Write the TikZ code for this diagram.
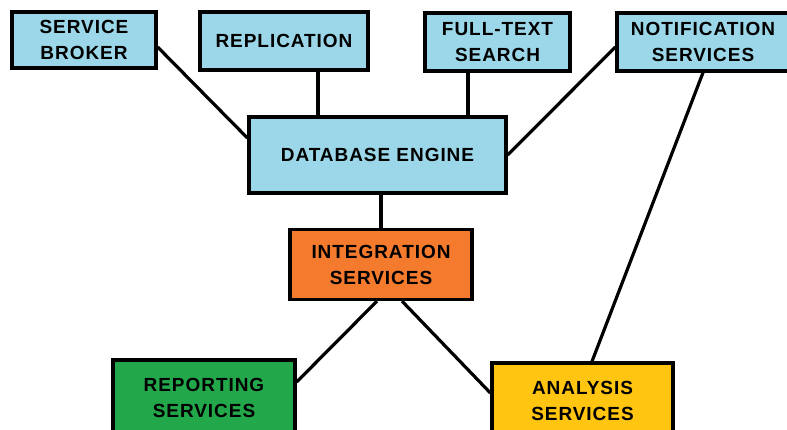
\documentclass[tikz,border=0pt]{standalone}
\usepackage{fontspec}
\setmainfont{Liberation Sans}[LetterSpace=5]
\usetikzlibrary{positioning}
\definecolor{toolblue}{HTML}{9BD7E8}
\definecolor{intorange}{HTML}{F47A2E}
\definecolor{repgreen}{HTML}{22A84A}
\definecolor{anayellow}{HTML}{FFC511}

\begin{document}
\begin{tikzpicture}[x=1pt, y=-1pt,
        % Define styles for the boxes
        box/.style={rectangle, draw=black, line width=3.2pt, align=center, inner sep=0pt,
            font=\fontsize{19}{26}\selectfont\bfseries},
        link/.style={line width=3.2pt}
    ]
    \useasboundingbox (0,0) rectangle (787,429);

    % Define nodes
    \node[box, fill=toolblue, minimum width=144, minimum height=56] (broker) at (84,40) {SERVICE\\BROKER};
    \node[box, fill=toolblue, minimum width=168, minimum height=58] (repl) at (284,41) {REPLICATION};
    \node[box, fill=toolblue, minimum width=145, minimum height=58] (fts) at (497.5,42) {FULL-TEXT\\SEARCH};
    \node[box, fill=toolblue, minimum width=172, minimum height=58] (notif) at (703,42) {NOTIFICATION\\SERVICES};
    \node[box, fill=toolblue, minimum width=257, minimum height=76] (db) at (377.5,155) {DATABASE ENGINE};
    \node[box, fill=intorange, minimum width=182, minimum height=70] (integ) at (381,264.5) {INTEGRATION\\SERVICES};
    \node[box, fill=repgreen, minimum width=182, minimum height=76] (report) at (204,398) {REPORTING\\SERVICES};
    \node[box, fill=anayellow, minimum width=181, minimum height=76] (analysis) at (582.5,401) {ANALYSIS\\SERVICES};

    % Draw connectors
    \draw[link] ([yshift=-7pt]broker.east) -- ([yshift=17pt]db.west);
    \draw[link] ([xshift=34pt]repl.south) -- ([xshift=34pt]repl.south |- db.north);
    \draw[link] ([xshift=-29.5pt]fts.south) -- ([xshift=-29.5pt]fts.south |- db.north);
    \draw[link] ([yshift=-5pt]notif.west) -- (db.east);
    \draw[link] (notif.south) -- ([xshift=9.5pt]analysis.north);
    \draw[link] (integ.north) -- (integ.north |- db.south);
    \draw[link] ([xshift=-4pt]integ.south) -- ([yshift=16pt]report.east);
    \draw[link] ([xshift=21pt]integ.south) -- ([yshift=8pt]analysis.west);
\end{tikzpicture}
\end{document}
